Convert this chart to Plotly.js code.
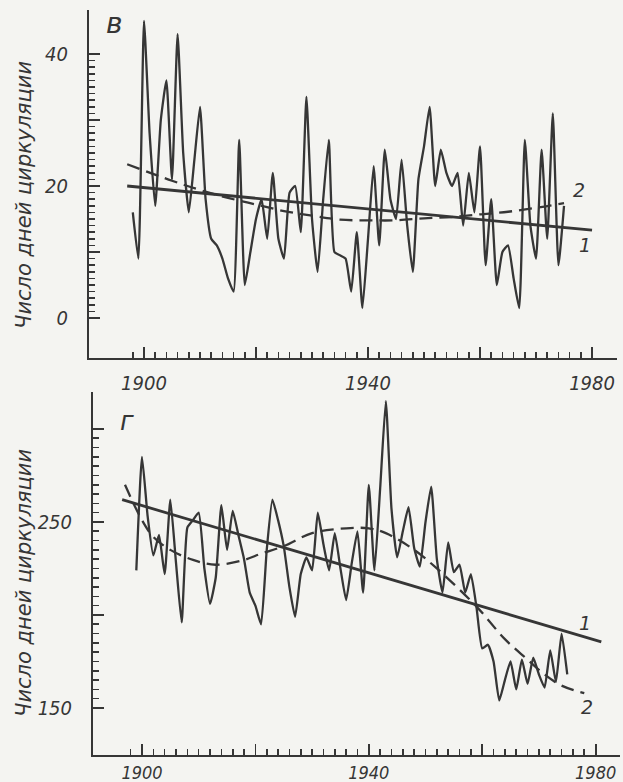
<!DOCTYPE html>
<html>
<head>
<meta charset="utf-8">
<script src="https://cdn.plot.ly/plotly-3.0.1.min.js"></script>
<style>html,body{margin:0;padding:0;background:#f4f4f1;}#chart{width:623px;height:782px;}</style>
</head>
<body>
<div id="chart"></div>
<script>
// ---------- DATA ----------
// Panel "в": number of circulation days, annual series
const topYears = [1898,1899,1900,1901,1902,1903,1904,1905,1906,1907,1908,1909,1910,1911,1912,1913,1914,1915,1916,1917,1918,1919,1920,1921,1922,1923,1924,1925,1926,1927,1928,1929,1930,1931,1932,1933,1934,1935,1936,1937,1938,1939,1940,1941,1942,1943,1944,1945,1946,1947,1948,1949,1950,1951,1952,1953,1954,1955,1956,1957,1958,1959,1960,1961,1962,1963,1964,1965,1966,1967,1968,1969,1970,1971,1972,1973,1974,1975];
const topValues = [16,9,45,28,17,30,36,21,43,25,16,24,32,18,12,11,9,6,4,27,5,10,15,18,12,22,12,9,19,20,13,33.5,15,7,18,27,10,9.5,9,4,13,1.5,12,23,11,25.5,18,15,24,14,7,21,26,32,20,25.5,22,20,22,14,22,16,26,8,18,5,10,11,6,1.5,27,14,9,25.5,12,31,8,17];
// linear trend (1) and smooth trend (2), panel "в"
const topTrend1Years = [1897, 1980];
const topTrend1Values = [20.0, 13.3];
const topTrend2Years = [1897,1905,1910,1915,1920,1925,1930,1935,1940,1945,1950,1955,1960,1965,1970,1975];
const topTrend2Values = [23.3,20.8,19.4,18.2,17.2,16.2,15.5,14.9,14.8,14.8,15.1,15.3,15.7,16.1,16.7,17.4];

// Panel "г": number of circulation days, annual series
const botYears = [1899,1900,1901,1902,1903,1904,1905,1906,1907,1908,1909,1910,1911,1912,1913,1914,1915,1916,1917,1918,1919,1920,1921,1922,1923,1924,1925,1926,1927,1928,1929,1930,1931,1932,1933,1934,1935,1936,1937,1938,1939,1940,1941,1942,1943,1944,1945,1946,1947,1948,1949,1950,1951,1952,1953,1954,1955,1956,1957,1958,1959,1960,1961,1962,1963,1964,1965,1966,1967,1968,1969,1970,1971,1972,1973,1974,1975];
const botValues = [224,285,253,232,243,222,262,228,196,247,251,255,225,206,220,259,235,256,243,230,212,205,195,235,262,251,237,215,199,222,231,224,255,238,224,244,225,208,228,245,212,270,224,268,315,257,231,245,258,236,226,250,269,230,212,239,223,227,212,222,204,182,184,175,154,165,175,160,176,163,177,168,161,181,164,190,168];
const botTrend1Years = [1896.5, 1981];
const botTrend1Values = [262, 185.5];
const botTrend2Years = [1897,1900,1902,1905,1909,1913,1918,1921,1925,1930,1936,1940,1943,1948,1952,1959,1964,1968,1971,1974,1978];
const botTrend2Values = [270,251,242,235,229.6,227,229.6,233,237,244,246.6,246.6,244,235,225,204.5,187,176,168,162,158];

// tick labels and tick positions
const xLabelVals = [1900, 1940, 1980];
const xLongTicks = [1900, 1920, 1940, 1960, 1980];
const topYLabelVals = [0, 20, 40];
const topYLongTicks = [0, 10, 20, 30, 40];
const botYLabelVals = [150, 250];
const botYLongTicks = [150, 200, 250, 300];

// texts
const yTitle = 'Число дней циркуляции';
const panelTop = 'в';
const panelBot = 'г';

// ---------- STYLE ----------
const ink = '#363636';
const bg = '#f4f4f1';
const W = 623, H = 782;
const px = v => v / W;
const py = v => 1 - v / H;

function range(a, b, step) { const r = []; for (let v = a; v <= b + 1e-9; v += step) r.push(v); return r; }
function labelsFor(vals, labelled) { return vals.map(v => labelled.indexOf(v) >= 0 ? String(v) : ''); }

const xShortTicks = range(1898, 1980, 2);
const topYShortTicks = range(0, 40, 1);
const botYShortTicks = range(150, 300, 5);

const fam = 'DejaVu Sans Condensed, Liberation Sans Narrow, DejaVu Sans';
const tickFont = {family: fam, size: 20, style: 'italic', color: ink};

function mainAxis(extra) {
  return Object.assign({
    showline: true, linecolor: ink, linewidth: 2,
    ticks: 'inside', ticklen: 6, tickwidth: 1.6, tickcolor: ink,
    showgrid: false, zeroline: false, tickfont: tickFont, tickmode: 'array'
  }, extra);
}
function longTickAxis(over, anchor, domain, rng, vals, side) {
  return {
    overlaying: over, anchor: anchor, domain: domain, range: rng, autorange: false, side: side,
    tickmode: 'array', tickvals: vals, ticks: 'inside', ticklen: 11, tickwidth: 1.8, tickcolor: ink,
    showticklabels: false, showline: false, showgrid: false, zeroline: false
  };
}

const seriesLine = {color: ink, width: 2.3, shape: 'spline', smoothing: 0.45};
const trendSolid = {color: ink, width: 2.8};
const trendDash = {color: ink, width: 2.3, dash: '13px,7px', shape: 'spline'};

const traces = [
  {x: topYears, y: topValues, xaxis: 'x', yaxis: 'y', mode: 'lines', line: seriesLine, hoverinfo: 'skip'},
  {x: topTrend1Years, y: topTrend1Values, xaxis: 'x', yaxis: 'y', mode: 'lines', line: trendSolid, hoverinfo: 'skip'},
  {x: topTrend2Years, y: topTrend2Values, xaxis: 'x', yaxis: 'y', mode: 'lines', line: trendDash, hoverinfo: 'skip'},
  {x: botYears, y: botValues, xaxis: 'x2', yaxis: 'y2', mode: 'lines', line: seriesLine, hoverinfo: 'skip'},
  {x: botTrend1Years, y: botTrend1Values, xaxis: 'x2', yaxis: 'y2', mode: 'lines', line: trendSolid, hoverinfo: 'skip'},
  {x: botTrend2Years, y: botTrend2Values, xaxis: 'x2', yaxis: 'y2', mode: 'lines', line: trendDash, hoverinfo: 'skip'},
  // empty carriers for the long-tick overlay axes
  {x: [], y: [], xaxis: 'x3', yaxis: 'y', mode: 'lines', hoverinfo: 'skip'},
  {x: [], y: [], xaxis: 'x', yaxis: 'y3', mode: 'lines', hoverinfo: 'skip'},
  {x: [], y: [], xaxis: 'x4', yaxis: 'y2', mode: 'lines', hoverinfo: 'skip'},
  {x: [], y: [], xaxis: 'x2', yaxis: 'y4', mode: 'lines', hoverinfo: 'skip'}
];

const xDom1 = [px(89), px(617)], yDom1 = [py(358), py(10)];
const xDom2 = [px(93), px(620)], yDom2 = [py(755), py(392)];
const xRng1 = [1890.18, 1984.46], yRng1 = [-6.06, 46.67];
const xRng2 = [1891.36, 1984.3], yRng2 = [124.7, 319.9];

const titleFont = {family: 'DejaVu Sans', size: 21, style: 'italic', color: ink};
const numFont = {family: 'DejaVu Sans', size: 19, style: 'italic', color: ink};

const layout = {
  width: W, height: H,
  margin: {l: 0, r: 0, t: 0, b: 0},
  paper_bgcolor: bg, plot_bgcolor: bg,
  showlegend: false,
  xaxis: mainAxis({
    domain: xDom1, range: xRng1, anchor: 'y',
    tickvals: xShortTicks, ticktext: labelsFor(xShortTicks, xLabelVals), ticklabelstandoff: 6
  }),
  yaxis: mainAxis({
    domain: yDom1, range: yRng1, anchor: 'x',
    tickvals: topYShortTicks, ticktext: labelsFor(topYShortTicks, topYLabelVals), ticklabelstandoff: 15
  }),
  xaxis2: mainAxis({
    domain: xDom2, range: xRng2, anchor: 'y2',
    tickvals: xShortTicks, ticktext: labelsFor(xShortTicks, xLabelVals), ticklabelstandoff: 0,
    tickfont: Object.assign({}, tickFont, {size: 18})
  }),
  yaxis2: mainAxis({
    domain: yDom2, range: yRng2, anchor: 'x2',
    tickvals: botYShortTicks, ticktext: labelsFor(botYShortTicks, botYLabelVals), ticklabelstandoff: 15
  }),
  xaxis3: longTickAxis('x', 'y', xDom1, xRng1, xLongTicks, 'bottom'),
  yaxis3: longTickAxis('y', 'x', yDom1, yRng1, topYLongTicks, 'left'),
  xaxis4: longTickAxis('x2', 'y2', xDom2, xRng2, xLongTicks, 'bottom'),
  yaxis4: longTickAxis('y2', 'x2', yDom2, yRng2, botYLongTicks, 'left'),
  annotations: [
    {text: yTitle, x: px(24), y: py(195), xref: 'paper', yref: 'paper', textangle: -90, showarrow: false,
     xanchor: 'center', yanchor: 'middle', font: titleFont},
    {text: yTitle, x: px(24), y: py(583), xref: 'paper', yref: 'paper', textangle: -90, showarrow: false,
     xanchor: 'center', yanchor: 'middle', font: titleFont},
    {text: panelTop, x: px(114), y: py(24), xref: 'paper', yref: 'paper', showarrow: false,
     xanchor: 'center', yanchor: 'middle', font: {family: 'DejaVu Sans', size: 28, style: 'italic', color: ink}},
    {text: panelBot, x: px(127), y: py(421), xref: 'paper', yref: 'paper', showarrow: false,
     xanchor: 'center', yanchor: 'middle', font: {family: 'DejaVu Sans', size: 26, style: 'italic', color: ink}},
    {text: '2', x: px(579), y: py(190), xref: 'paper', yref: 'paper', showarrow: false,
     xanchor: 'center', yanchor: 'middle', font: numFont},
    {text: '1', x: px(585), y: py(245), xref: 'paper', yref: 'paper', showarrow: false,
     xanchor: 'center', yanchor: 'middle', font: numFont},
    {text: '1', x: px(585), y: py(623), xref: 'paper', yref: 'paper', showarrow: false,
     xanchor: 'center', yanchor: 'middle', font: numFont},
    {text: '2', x: px(587), y: py(707), xref: 'paper', yref: 'paper', showarrow: false,
     xanchor: 'center', yanchor: 'middle', font: numFont}
  ]
};

Plotly.newPlot('chart', traces, layout, {staticPlot: true, displayModeBar: false});
</script>
</body>
</html>
